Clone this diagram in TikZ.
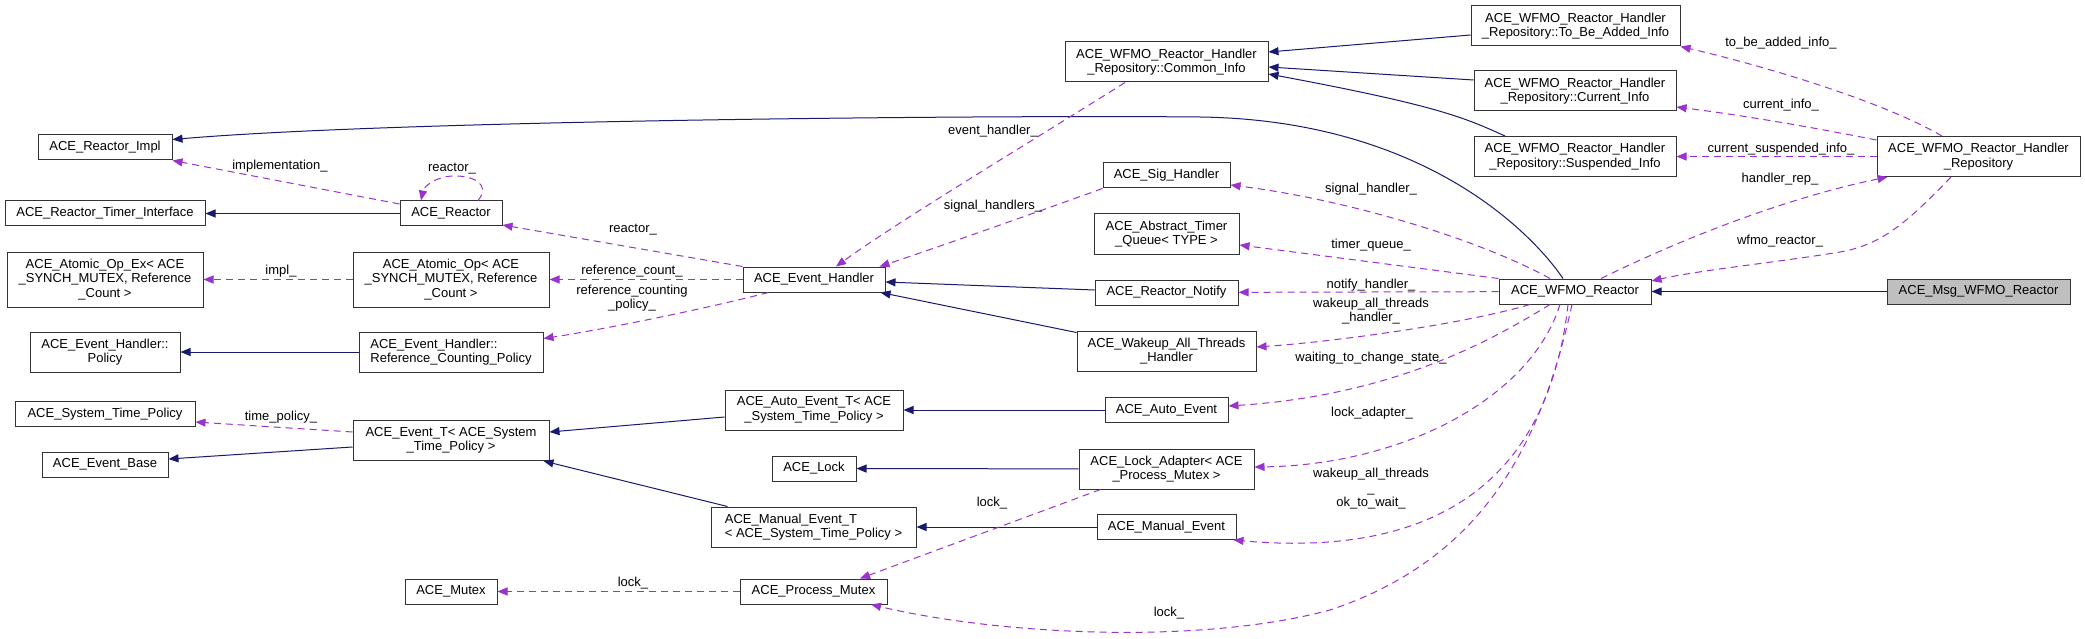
\documentclass[tikz,border=0pt]{standalone}
\usepackage{fontspec}
\setmainfont{Liberation Sans}
\usetikzlibrary{arrows.meta}
\definecolor{navy}{HTML}{191970}
\definecolor{orchid}{HTML}{9A32CD}
\definecolor{boxgray}{HTML}{BFBFBF}
\newcommand\lbl{\fontsize{13}{14.5}\selectfont}
\tikzset{
  box/.style={draw=black!80, line width=1pt, fill=white, inner sep=0pt, font=\lbl, align=center},
  inh/.style={draw=navy, line width=1pt, -{Triangle[length=10pt,width=8pt]}},
  use/.style={draw=orchid, line width=1pt, dash pattern=on 7pt off 5pt, -{Triangle[length=10pt,width=8pt]}},
  lab/.style={font=\lbl, inner sep=0pt, align=center},
}
\begin{document}
\begin{tikzpicture}[x=1pt,y=-1pt]
\useasboundingbox[fill=white] (0,0) rectangle (2085,639);
% column 1
\node[box, minimum width=134pt, minimum height=25pt] (reactorimpl) at (105,147.5) {ACE\_Reactor\_Impl};
\node[box, minimum width=200pt, minimum height=25pt] (timerif) at (105,213.5) {ACE\_Reactor\_Timer\_Interface};
\node[box, minimum width=196pt, minimum height=55pt] (atomicex) at (105,279.5) {ACE\_Atomic\_Op\_Ex< ACE\\\_SYNCH\_MUTEX, Reference\\\_Count >};
\node[box, minimum width=150pt, minimum height=40pt] (policy) at (105,352) {ACE\_Event\_Handler::\\Policy};
\node[box, minimum width=180pt, minimum height=25pt] (systime) at (105,414) {ACE\_System\_Time\_Policy};
\node[box, minimum width=126pt, minimum height=25pt] (eventbase) at (105,464.5) {ACE\_Event\_Base};
% column 2
\node[box, minimum width=102pt, minimum height=25pt] (reactor) at (451,213.5) {ACE\_Reactor};
\node[box, minimum width=196pt, minimum height=55pt] (atomic) at (451,279.5) {ACE\_Atomic\_Op< ACE\\\_SYNCH\_MUTEX, Reference\\\_Count >};
\node[box, minimum width=184pt, minimum height=40pt, align=left] (rcpolicy) at (451,352) {ACE\_Event\_Handler::\\Reference\_Counting\_Policy};
\node[box, minimum width=196pt, minimum height=40pt] (eventT) at (451,440.5) {ACE\_Event\_T< ACE\_System\\\_Time\_Policy >};
\node[box, minimum width=92pt, minimum height=25pt] (mutex) at (451,591.5) {ACE\_Mutex};
% column 3
\node[box, minimum width=142pt, minimum height=25pt] (eh) at (814,279.5) {ACE\_Event\_Handler};
\node[box, minimum width=178pt, minimum height=40pt] (autoT) at (814,410) {ACE\_Auto\_Event\_T< ACE\\\_System\_Time\_Policy >};
\node[box, minimum width=84pt, minimum height=25pt] (lock) at (814,468.5) {ACE\_Lock};
\node[box, minimum width=205pt, minimum height=40pt, align=left] (manualT) at (813.5,527) {ACE\_Manual\_Event\_T\\< ACE\_System\_Time\_Policy >};
\node[box, minimum width=147pt, minimum height=25pt] (pmutex) at (813.5,591.5) {ACE\_Process\_Mutex};
% column 4
\node[box, minimum width=203pt, minimum height=40pt] (common) at (1166.5,62) {ACE\_WFMO\_Reactor\_Handler\\\_Repository::Common\_Info};
\node[box, minimum width=127pt, minimum height=25pt] (sig) at (1166.5,175.5) {ACE\_Sig\_Handler};
\node[box, minimum width=145pt, minimum height=40pt] (atq) at (1166.5,234) {ACE\_Abstract\_Timer\\\_Queue< TYPE >};
\node[box, minimum width=143pt, minimum height=25pt] (notify) at (1166.5,292.5) {ACE\_Reactor\_Notify};
\node[box, minimum width=179pt, minimum height=40pt] (wakeup) at (1166.5,351) {ACE\_Wakeup\_All\_Threads\\\_Handler};
\node[box, minimum width=123pt, minimum height=25pt] (autoev) at (1166.5,410) {ACE\_Auto\_Event};
\node[box, minimum width=175pt, minimum height=40pt] (lockad) at (1166.5,469) {ACE\_Lock\_Adapter< ACE\\\_Process\_Mutex >};
\node[box, minimum width=139pt, minimum height=25pt] (manualev) at (1166.5,527) {ACE\_Manual\_Event};
% column 5
\node[box, minimum width=209pt, minimum height=40pt] (tba) at (1575.5,26) {ACE\_WFMO\_Reactor\_Handler\\\_Repository::To\_Be\_Added\_Info};
\node[box, minimum width=202pt, minimum height=40pt] (cur) at (1575,91) {ACE\_WFMO\_Reactor\_Handler\\\_Repository::Current\_Info};
\node[box, minimum width=202pt, minimum height=40pt] (susp) at (1575,156.5) {ACE\_WFMO\_Reactor\_Handler\\\_Repository::Suspended\_Info};
\node[box, minimum width=152pt, minimum height=25pt] (wfmo) at (1575,291.5) {ACE\_WFMO\_Reactor};
% column 6
\node[box, minimum width=203pt, minimum height=40pt] (repo) at (1978.5,156.5) {ACE\_WFMO\_Reactor\_Handler\\\_Repository};
\node[box, minimum width=183pt, minimum height=25pt, fill=boxgray] (msg) at (1978.5,291.5) {ACE\_Msg\_WFMO\_Reactor};

% inheritance
\draw[inh] ([xshift=-12pt]wfmo.north) .. controls (1530,230) and (1420,120) .. (1200,117) .. controls (1000,115) and (400,120) .. ([yshift=8pt]reactorimpl.east);
\draw[inh] (msg) -- (wfmo);
\draw[inh] ([yshift=-9pt]tba.west) -- ([yshift=10pt]common.east);
\draw[inh] ([yshift=11pt]cur.west) -- ([yshift=-5pt]common.east);
\draw[inh] ([xshift=-70pt]susp.north) .. controls (1465,118) and (1440,106) .. ([yshift=-12pt]common.east);
\draw[inh] (reactor) -- (timerif);
\draw[inh] (rcpolicy) -- (policy);
\draw[inh] ([yshift=-6.5pt]eventT.west) -- ([yshift=5.5pt]eventbase.east);
\draw[inh] ([yshift=2.5pt]notify.west) -- ([yshift=-2.5pt]eh.east);
\draw[inh] ([yshift=-2pt]wakeup.north west) -- ([xshift=-5pt]eh.south east);
\draw[inh] ([yshift=-7pt]autoT.west) -- ([yshift=8.5pt]eventT.east);
\draw[inh] ([xshift=17pt]manualT.north west) -- ([xshift=-6pt]eventT.south east);
\draw[inh] (autoev) -- (autoT);
\draw[inh] (lockad) -- (lock);
\draw[inh] (manualev) -- (manualT);

% usage
\draw[use] ([yshift=9.5pt]reactor.west) -- (reactorimpl.south east);
\draw[use] ([xshift=27pt]reactor.north) .. controls (492,184) and (472,175) .. (452,176) .. controls (436,177) and (424,186) .. ([xshift=-30pt]reactor.north);
\draw[use] (eh.north west) -- ([yshift=-11.5pt]reactor.east);
\draw[use] (atomic) -- (atomicex);
\draw[use] (eh) -- (atomic);
\draw[use] ([xshift=26pt]eh.south west) .. controls (700,310) and (600,330) .. ([yshift=-7pt]rcpolicy.north east);
\draw[use] ([yshift=8.5pt]eventT.west) -- ([yshift=-8pt]systime.east);
\draw[use] ([xshift=-41.5pt]common.south) .. controls (1050,130) and (900,220) .. ([xshift=22pt]eh.north);
\draw[use] (sig.south west) .. controls (1040,211) and (930,250) .. ([xshift=-6pt]eh.north east);
\draw[use] ([xshift=-25pt]wfmo.north) .. controls (1480,240) and (1350,200) .. ([yshift=-9.5pt]sig.east);
\draw[use] (wfmo.north west) -- ([yshift=-11pt]atq.east);
\draw[use] (wfmo) -- (notify);
\draw[use] ([xshift=-45pt]wfmo.south) .. controls (1460,325) and (1330,342) .. ([yshift=4pt]wakeup.east);
\draw[use] ([xshift=-25pt]wfmo.south) .. controls (1500,335) and (1400,395) .. ([yshift=4pt]autoev.east);
\draw[use] ([xshift=-15pt]wfmo.south) .. controls (1530,400) and (1400,465) .. ([yshift=2pt]lockad.east);
\draw[use] ([xshift=-7pt]wfmo.south) .. controls (1545,510) and (1400,555) .. ([xshift=-3pt]manualev.south east);
\draw[use] ([xshift=-3pt]wfmo.south) .. controls (1540,450) and (1480,560) .. (1330,610) .. controls (1200,645) and (1000,635) .. ([xshift=57.5pt]pmutex.south);
\draw[use] ([xshift=22pt]lockad.south west) -- ([xshift=46.5pt]pmutex.north);
\draw[use] (pmutex) -- (mutex);
\draw[use] ([xshift=26pt]wfmo.north) .. controls (1700,230) and (1800,195) .. ([xshift=11pt]repo.south west);
\draw[use] ([xshift=-27.5pt]repo.south) .. controls (1905,225) and (1880,245) .. (1840,252) .. controls (1780,262) and (1700,270) .. ([yshift=10.5pt]wfmo.east);
\draw[use] ([xshift=-36.5pt]repo.north) .. controls (1880,100) and (1760,65) .. (tba.south east);
\draw[use] ([yshift=16.5pt]repo.west) .. controls (1800,125) and (1740,115) .. ([yshift=-16pt]cur.east);
\draw[use] (repo) -- (susp);

% labels
\node[lab] (l1) at (280,166) {implementation\_};
\node[lab] (l2) at (452,169) {reactor\_};
\node[lab] (l3) at (633,230) {reactor\_};
\node[lab] (l4) at (281,271) {impl\_};
\node[lab] (l5) at (632,271) {reference\_count\_};
\node[lab] (l6) at (632,298) {reference\_counting\\\_policy\_};
\node[lab] (l7) at (281,417) {time\_policy\_};
\node[lab] (l8) at (993,131) {event\_handler\_};
\node[lab] (l9) at (993,206) {signal\_handlers\_};
\node[lab] (l10) at (1371,189) {signal\_handler\_};
\node[lab] (l11) at (1371,245) {timer\_queue\_};
\node[lab] (l12) at (1371,285) {notify\_handler\_};
\node[lab] (l13) at (1371,311) {wakeup\_all\_threads\\\_handler\_};
\node[lab] (l14) at (1371,358) {waiting\_to\_change\_state\_};
\node[lab] (l15) at (1372,413) {lock\_adapter\_};
\node[lab] (l16) at (1371,489) {wakeup\_all\_threads\\\_\\ok\_to\_wait\_};
\node[lab] (l17) at (992,503) {lock\_};
\node[lab] (l18) at (1169,613) {lock\_};
\node[lab] (l19) at (633,583) {lock\_};
\node[lab] (l20) at (1781,43) {to\_be\_added\_info\_};
\node[lab] (l21) at (1781,105) {current\_info\_};
\node[lab] (l22) at (1781,149) {current\_suspended\_info\_};
\node[lab] (l23) at (1780,179) {handler\_rep\_};
\node[lab] (l24) at (1780,241) {wfmo\_reactor\_};
\end{tikzpicture}
\end{document}
